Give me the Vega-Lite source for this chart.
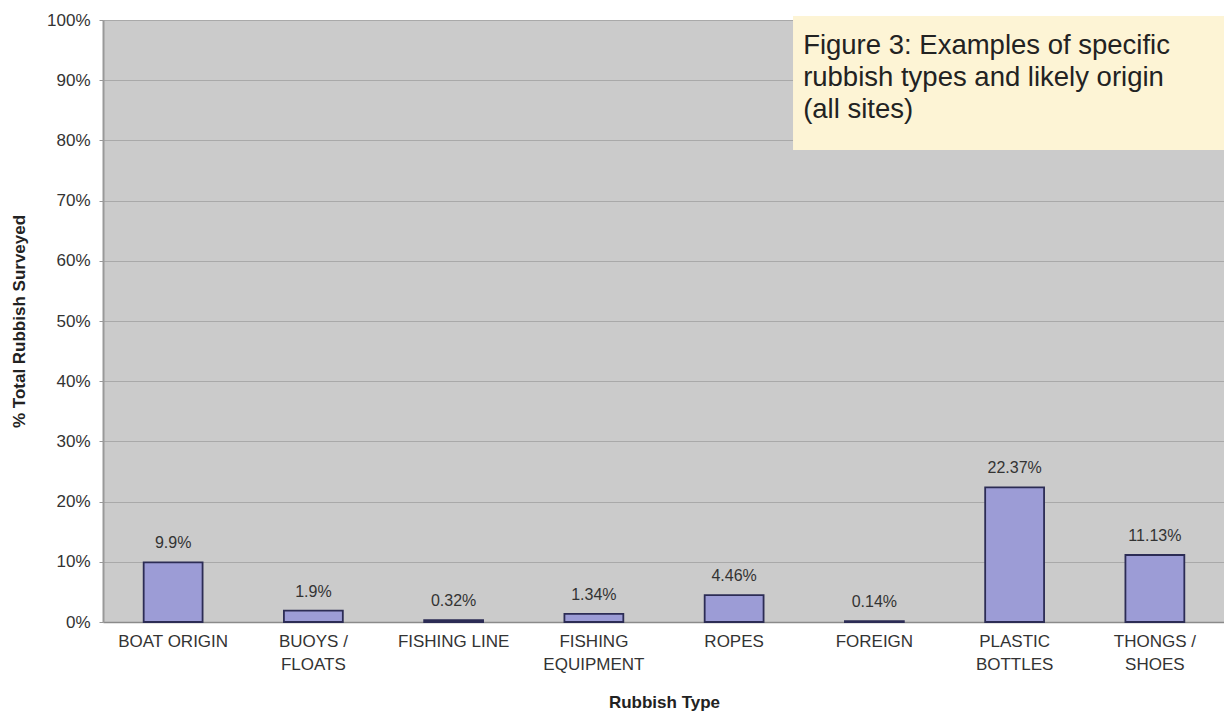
{
  "$schema": "https://vega.github.io/schema/vega-lite/v6.json",
  "width": 1122,
  "height": 602,
  "autosize": {"type": "none"},
  "padding": {"left": 103, "top": 20, "right": 0, "bottom": 94},
  "background": "white",
  "config": {
    "font": "Liberation Sans",
    "view": {"fill": "#cbcbcb", "stroke": null}
  },
  "datasets": {
    "bars": [
      {"type": "BOAT ORIGIN", "pct": 9.9, "label": "9.9%"},
      {"type": "BUOYS /\nFLOATS", "pct": 1.9, "label": "1.9%"},
      {"type": "FISHING LINE", "pct": 0.32, "label": "0.32%"},
      {"type": "FISHING\nEQUIPMENT", "pct": 1.34, "label": "1.34%"},
      {"type": "ROPES", "pct": 4.46, "label": "4.46%"},
      {"type": "FOREIGN", "pct": 0.14, "label": "0.14%"},
      {"type": "PLASTIC\nBOTTLES", "pct": 22.37, "label": "22.37%"},
      {"type": "THONGS /\nSHOES", "pct": 11.13, "label": "11.13%"}
    ],
    "box": [{"x0": 0.615, "x1": 1.01, "y0": 78.4, "y1": 100.66}],
    "boxtext": [
      {"tx": 0.624, "ty": 94.4, "t": "Figure 3: Examples of specific"},
      {"tx": 0.624, "ty": 89.1, "t": "rubbish types and likely origin"},
      {"tx": 0.624, "ty": 83.8, "t": "(all sites)"}
    ]
  },
  "layer": [
    {
      "data": {"name": "bars"},
      "layer": [
        {
          "mark": {"type": "bar", "fill": "#9c9cd6", "stroke": "#2c2c55", "strokeWidth": 1.8},
          "encoding": {
            "x": {
              "field": "type", "type": "nominal", "sort": null,
              "scale": {"paddingInner": 0.58, "paddingOuter": 0.29},
              "axis": {
                "title": "Rubbish Type",
                "titleFontSize": 17, "titleFontWeight": "bold", "titleColor": "#222",
                "titlePadding": 22,
                "labelExpr": "split(datum.value, '\\n')",
                "labelAngle": 0, "labelFontSize": 17, "labelColor": "#333", "labelLineHeight": 23,
                "labelPadding": 11, "ticks": false, "domain": true, "domainColor": "#8a8a8a", "domainWidth": 1.5
              }
            },
            "y": {
              "field": "pct", "type": "quantitative",
              "scale": {"domain": [0, 100]},
              "axis": {
                "title": "% Total Rubbish Surveyed",
                "titleFontSize": 17, "titleFontWeight": "bold", "titleColor": "#222", "titlePadding": 18,
                "values": [0, 10, 20, 30, 40, 50, 60, 70, 80, 90, 100],
                "labelExpr": "datum.value + '%'",
                "labelFontSize": 17, "labelColor": "#333", "labelPadding": 9,
                "tickSize": 4, "tickColor": "#999",
                "grid": true, "gridColor": "#a9a9a9", "gridWidth": 1,
                "domain": true, "domainColor": "#999", "domainWidth": 2
              }
            }
          }
        },
        {
          "mark": {"type": "text", "baseline": "middle", "dy": -19, "fontSize": 16, "color": "#333"},
          "encoding": {
            "x": {"field": "type", "type": "nominal", "sort": null},
            "y": {"field": "pct", "type": "quantitative"},
            "text": {"field": "label"}
          }
        }
      ]
    },
    {
      "data": {"name": "box"},
      "mark": {"type": "rect", "fill": "#fdf4d5"},
      "encoding": {
        "x": {"field": "x0", "type": "quantitative", "scale": {"domain": [0, 1]}, "axis": null},
        "x2": {"field": "x1"},
        "y": {"field": "y0", "type": "quantitative"},
        "y2": {"field": "y1"}
      }
    },
    {
      "data": {"name": "boxtext"},
      "mark": {"type": "text", "align": "left", "baseline": "alphabetic", "fontSize": 27.5, "color": "#222"},
      "encoding": {
        "x": {"field": "tx", "type": "quantitative", "scale": {"domain": [0, 1]}, "axis": null},
        "y": {"field": "ty", "type": "quantitative"},
        "text": {"field": "t"}
      }
    }
  ],
  "resolve": {"scale": {"x": "independent"}}
}
